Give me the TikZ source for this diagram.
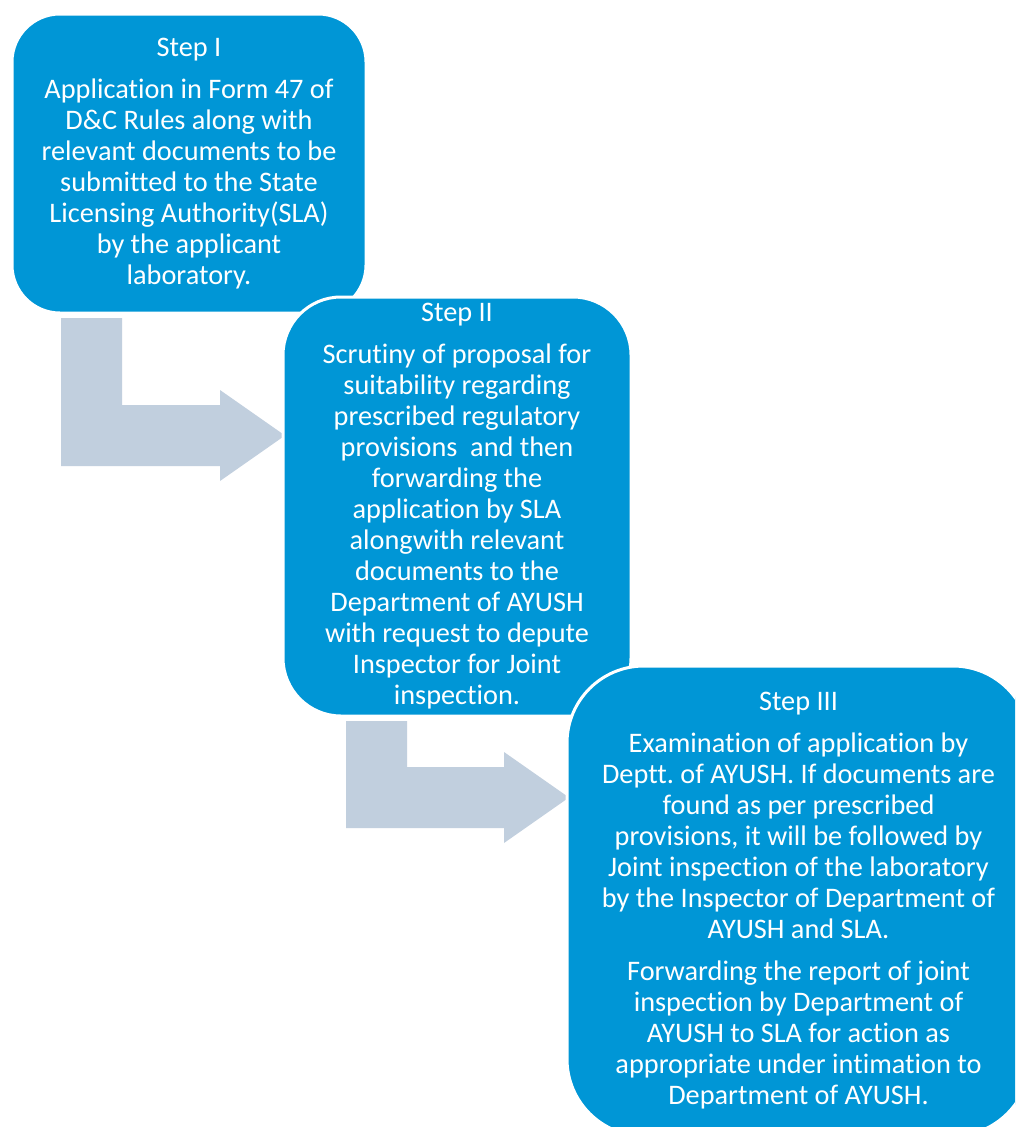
\documentclass[tikz,border=0pt]{standalone}
\usepackage{fontspec}
\setmainfont{Carlito}[Ligatures=NoCommon]
\definecolor{boxblue}{RGB}{0,150,214}
\definecolor{arrowgrey}{RGB}{193,207,222}
\begin{document}
\frenchspacing
\begin{tikzpicture}[x=1pt,y=-1pt,
  stepbox/.style={draw=white, line width=3pt, fill=boxblue, text=white, align=center,
    font=\fontsize{28.3}{31}\selectfont, inner sep=0pt},
  bentarrow/.style={fill=arrowgrey}]
\useasboundingbox (0,0) rectangle (1015,1127);
\fill[white] (0,0) rectangle (1015,1127);
\clip (0,0) rectangle (1015,1127);
\node[stepbox, rounded corners=48pt, minimum width=354pt, minimum height=299pt] (s1) at (189,163.5)
 {Step I\\[11pt]
  Application in Form 47 of\\
  D\&C Rules along with\\
  relevant documents to be\\
  submitted to the State\\
  Licensing Authority(SLA)\\
  by the applicant\\
  laboratory.};
\fill[bentarrow] (61,318) -- (122,318) -- (122,405) -- (220,405) -- (220,390) -- (285,435.5)
  -- (220,481) -- (220,466) -- (61,466) -- cycle;
\node[stepbox, rounded corners=58pt, minimum width=348pt, minimum height=419pt] (s2) at (457,506.5)
 {Step II\\[11pt]
  Scrutiny of proposal for\\
  suitability regarding\\
  prescribed regulatory\\
  provisions\ \ and then\\
  forwarding the\\
  application by SLA\\
  alongwith relevant\\
  documents to the\\
  Department of AYUSH\\
  with request to depute\\
  Inspector for Joint\\
  inspection.};
\fill[bentarrow] (346,721) -- (407,721) -- (407,767) -- (504,767) -- (504,752) -- (569,797.5)
  -- (504,843) -- (504,828) -- (346,828) -- cycle;
\node[stepbox, rounded corners=77pt, minimum width=463pt, minimum height=470pt] (s3) at (798.5,901)
 {Step III\\[11pt]
  Examination of application by\\
  Deptt. of AYUSH. If documents are\\
  found as per prescribed\\
  provisions, it will be followed by\\
  Joint inspection of the laboratory\\
  by the Inspector of Department of\\
  AYUSH and SLA.\\[11pt]
  Forwarding the report of joint\\
  inspection by Department of\\
  AYUSH to SLA for action as\\
  appropriate under intimation to\\
  Department of AYUSH.};
\end{tikzpicture}
\end{document}
